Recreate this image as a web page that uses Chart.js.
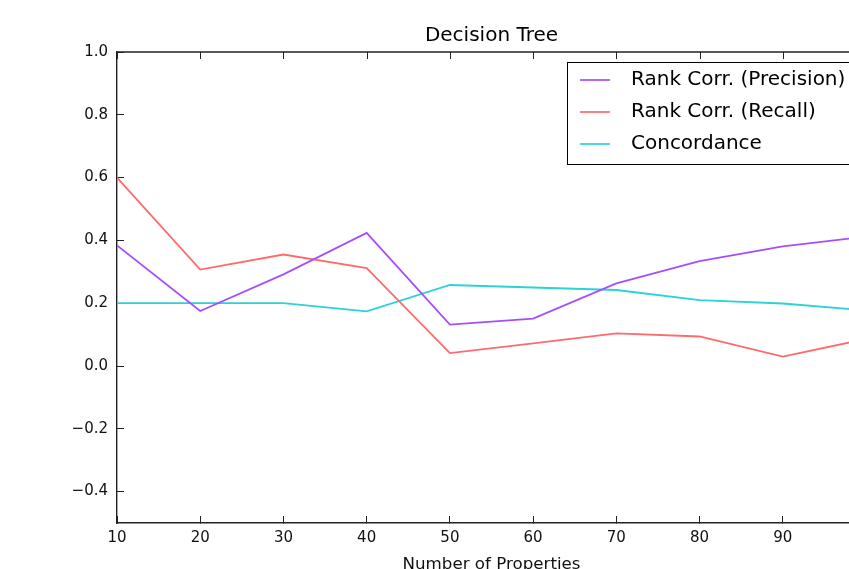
<!DOCTYPE html>
<html>
<head>
<meta charset="utf-8">
<script src="https://cdn.jsdelivr.net/npm/chart.js@4"></script>
<style>
  html, body { margin: 0; padding: 0; overflow: hidden; background: #fff; }
  #chart-line { display: block; }
</style>
</head>
<body>
<canvas id="chart-line" width="900" height="580"></canvas>
<script>
// dados
const numProps = [10, 20, 30, 40, 50, 60, 70, 80, 90, 100];
const rankPrecision = [0.384, 0.175, 0.292, 0.424, 0.132, 0.151, 0.263, 0.334, 0.381, 0.412];
const rankRecall = [0.600, 0.307, 0.355, 0.312, 0.041, 0.072, 0.104, 0.094, 0.030, 0.086];
const concordance = [0.200, 0.200, 0.200, 0.174, 0.258, 0.250, 0.242, 0.210, 0.199, 0.177];
const xTicks = [10, 20, 30, 40, 50, 60, 70, 80, 90, 100];
const yTicks = [-0.4, -0.2, 0.0, 0.2, 0.4, 0.6, 0.8, 1.0];

const FONT = "'DejaVu Sans', sans-serif";
const chartTitle = 'Decision Tree';
const seriesNames = ['Rank Corr. (Precision)', 'Rank Corr. (Recall)', 'Concordance'];
const seriesColors = ['#a64dff', '#ff6a6a', '#2ad3d6'];

function toPoints(arr) {
    return arr.map((v, i) => ({ x: numProps[i], y: v }));
}

// titulo centrado na area do grafico, moldura (topo e direita), ticks de cima, legenda
const framePlugin = {
    id: 'framePlugin',
    afterDraw: (chart) => {
        const { ctx, chartArea: { top, bottom, left, right }, scales: { x, y } } = chart;
        ctx.save();

        ctx.fillStyle = '#000';
        ctx.font = '20px ' + FONT;
        ctx.textAlign = 'center';
        ctx.textBaseline = 'middle';
        ctx.fillText(chartTitle, (left + right) / 2, 36);

        ctx.strokeStyle = '#222';
        ctx.lineWidth = 1.3;
        ctx.beginPath();
        ctx.moveTo(left, top);
        ctx.lineTo(right, top);
        ctx.lineTo(right, bottom);
        ctx.stroke();

        ctx.lineWidth = 1;
        xTicks.forEach((v) => {
            const px = Math.round(x.getPixelForValue(v)) + 0.5;
            ctx.beginPath();
            ctx.moveTo(px, top);
            ctx.lineTo(px, top + 7);
            ctx.stroke();
        });
        yTicks.forEach((v) => {
            const py = Math.round(y.getPixelForValue(v)) + 0.5;
            ctx.beginPath();
            ctx.moveTo(right, py);
            ctx.lineTo(right - 7, py);
            ctx.stroke();
        });

        // legenda
        const boxX = 567.5, boxY = 62.5, boxW = 320, boxH = 102;
        ctx.fillStyle = '#fff';
        ctx.fillRect(boxX, boxY, boxW, boxH);
        ctx.strokeStyle = '#000';
        ctx.lineWidth = 1;
        ctx.strokeRect(boxX, boxY, boxW, boxH);
        ctx.font = '20px ' + FONT;
        ctx.textBaseline = 'middle';
        ctx.textAlign = 'left';
        seriesNames.forEach((name, i) => {
            const rowY = 80 + i * 32;
            ctx.strokeStyle = seriesColors[i];
            ctx.lineWidth = 1.7;
            ctx.beginPath();
            ctx.moveTo(580, rowY);
            ctx.lineTo(610, rowY);
            ctx.stroke();
            ctx.fillStyle = '#000';
            ctx.fillText(name, 631, rowY);
        });
        ctx.restore();
    }
};

const dataLine = {
    type: 'line',
    data: {
        datasets: [{
            label: seriesNames[0],
            data: toPoints(rankPrecision),
            borderColor: seriesColors[0],
        }, {
            label: seriesNames[1],
            data: toPoints(rankRecall),
            borderColor: seriesColors[1],
        }, {
            label: seriesNames[2],
            data: toPoints(concordance),
            borderColor: seriesColors[2],
        }]
    },
    options: {
        responsive: false,
        animation: false,
        layout: { padding: { left: 0, right: 34, top: 52, bottom: 0 } },
        elements: {
            line: { borderWidth: 1.8, tension: 0, fill: false },
            point: { radius: 0 }
        },
        scales: {
            x: {
                type: 'linear',
                min: 10,
                max: 100,
                afterBuildTicks: (scale) => { scale.ticks = xTicks.map(v => ({ value: v })); },
                afterFit: (scale) => { scale.height = 57; },
                grid: { drawOnChartArea: false, tickLength: -7, color: '#222', lineWidth: 1 },
                border: { color: '#222', width: 1.4 },
                ticks: { padding: 13, color: '#111', font: { family: FONT, size: 15 }, maxRotation: 0 },
                title: {
                    display: true,
                    text: 'Number of Properties',
                    color: '#111',
                    font: { family: FONT, size: 16.7 },
                    padding: { top: 0, bottom: 5 }
                }
            },
            y: {
                min: -0.5,
                max: 1.0,
                afterBuildTicks: (scale) => { scale.ticks = yTicks.map(v => ({ value: v })); },
                afterFit: (scale) => { scale.width = 117; },
                grid: { drawOnChartArea: false, tickLength: -7, color: '#222', lineWidth: 1 },
                border: { color: '#222', width: 1.4 },
                ticks: {
                    padding: 16,
                    color: '#111',
                    font: { family: FONT, size: 15 },
                    callback: (v) => Number(v).toFixed(1).replace('-', '\u2212')
                }
            }
        },
        plugins: {
            legend: { display: false },
            tooltip: { enabled: false },
            title: { display: false }
        }
    },
    plugins: [framePlugin]
};

const myChart = new Chart('chart-line', dataLine);
</script>
</body>
</html>
